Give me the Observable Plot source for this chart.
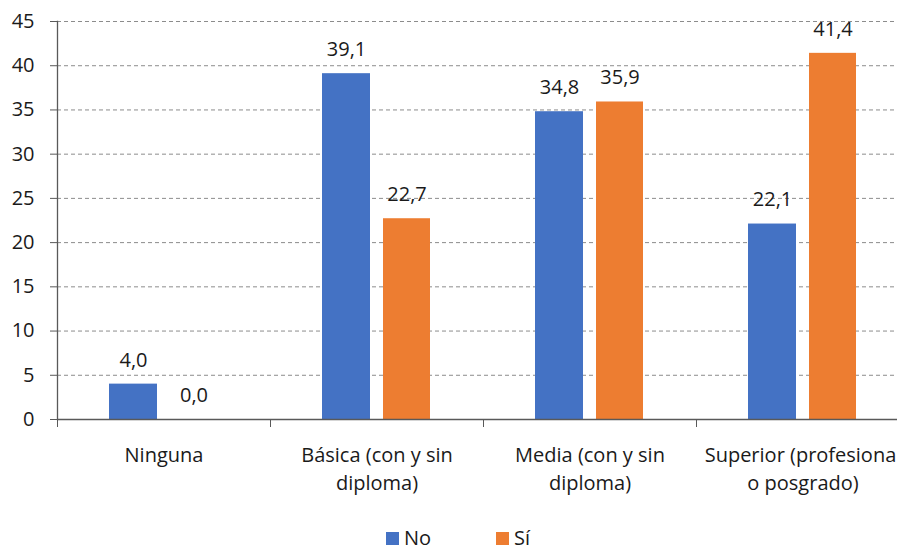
<!DOCTYPE html>
<html>
<head>
<meta charset="utf-8">
<script src="https://cdn.jsdelivr.net/npm/d3@7"></script>
<script src="https://cdn.jsdelivr.net/npm/@observablehq/plot@0.6"></script>
<style>
  html, body { margin: 0; padding: 0; background: #fff; overflow: hidden; }
  #wrap { position: relative; width: 897px; height: 548px; overflow: hidden; font-family: "Open Sans", sans-serif; }
  #legend { position: absolute; top: 529px; left: 386px; display: flex; font-size: 20px; line-height: 18px; color: #1a1a1a; }
  .item { display: flex; align-items: center; }
  .sw { width: 13px; height: 13px; margin-right: 5px; }
</style>
</head>
<body>
<div id="wrap"></div>
<script>
const categories = ["Ninguna", "Básica (con y sin diploma)", "Media (con y sin diploma)", "Superior (profesional o posgrado)"];
const categoryLabels = ["Ninguna", "Básica (con y sin\ndiploma)", "Media (con y sin\ndiploma)", "Superior (profesional\no posgrado)"];
const seriesNames = ["No", "Sí"];
const seriesColors = ["#4472C4", "#ED7D31"];
const valuesNo = [4.0, 39.1, 34.8, 22.1];
const valuesSi = [0.0, 22.7, 35.9, 41.4];
const yTicks = [0, 5, 10, 15, 20, 25, 30, 35, 40, 45];

const dataNo = categories.map((c, i) => ({cat: c, series: seriesNames[0], value: valuesNo[i]}));
const dataSi = categories.map((c, i) => ({cat: c, series: seriesNames[1], value: valuesSi[i]}));
const fmt = v => v.toFixed(1).replace(".", ",");
const labelOf = new Map(categories.map((c, i) => [c, categoryLabels[i]]));

const textColor = "#1a1a1a";
const axisColor = "#595959";
const fs = 20;

const chart = Plot.plot({
  width: 897,
  height: 548,
  marginLeft: 57,
  marginRight: 0,
  marginTop: 21,
  marginBottom: 129,
  style: {fontFamily: "Open Sans, sans-serif", fontSize: fs + "px", color: textColor, background: "#fff"},
  x: {domain: categories, range: [57, 909], padding: 0},
  y: {domain: [0, 45], ticks: yTicks},
  marks: [
    Plot.ruleY(yTicks.filter(d => d > 0), {stroke: "#8c8c8c", strokeDasharray: "4,3", strokeWidth: 1}),
    Plot.barY(dataNo, {x: "cat", y: "value", fill: seriesColors[0], insetLeft: 52, insetRight: 113}),
    Plot.barY(dataSi, {x: "cat", y: "value", fill: seriesColors[1], insetLeft: 113, insetRight: 53}),
    Plot.text(dataNo, {x: "cat", y: "value", text: d => fmt(d.value), dx: -30.5, dy: -24, fill: textColor, fontSize: fs}),
    Plot.text(dataSi, {x: "cat", y: "value", text: d => fmt(d.value), dx: 30, dy: -24, fill: textColor, fontSize: fs}),
    Plot.axisY({ticks: yTicks, tickSize: 7, tickPadding: 16, stroke: axisColor, fill: textColor, fontSize: fs, label: null}),
    Plot.axisX({tickSize: 8, tickFormat: () => "", dx: -106.5, stroke: axisColor, label: null}),
    Plot.axisX({tickSize: 0, tickPadding: 23, tickFormat: d => labelOf.get(d), lineHeight: 1.4, fill: textColor, fontSize: fs, label: null}),
    Plot.ruleY([0], {stroke: axisColor, strokeWidth: 1.3}),
    Plot.frame({anchor: "left", stroke: axisColor, strokeWidth: 1.3})
  ]
});

const wrap = document.getElementById("wrap");
wrap.appendChild(chart);

const legend = document.createElement("div");
legend.id = "legend";
seriesNames.forEach((name, i) => {
  const item = document.createElement("div");
  item.className = "item";
  item.style.width = i === 0 ? "110px" : "auto";
  const sw = document.createElement("span");
  sw.className = "sw";
  sw.style.background = seriesColors[i];
  const t = document.createElement("span");
  t.textContent = name;
  item.appendChild(sw);
  item.appendChild(t);
  legend.appendChild(item);
});
wrap.appendChild(legend);
</script>
</body>
</html>
